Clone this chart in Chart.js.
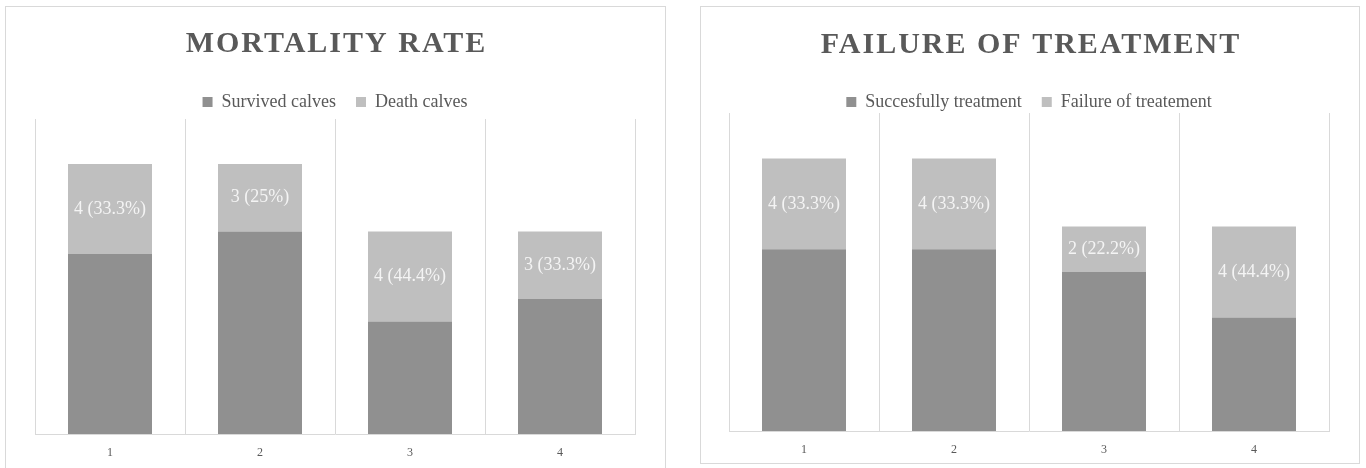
<!DOCTYPE html>
<html>
<head>
<meta charset="utf-8">
<script src="https://cdn.jsdelivr.net/npm/chart.js@4"></script>
<style>
  body { margin: 0; background: #fff; width: 1366px; height: 468px; overflow: hidden; position: relative; }
  .panel { position: absolute; border: 1px solid #d9d9d9; background: #fff; }
  #mortalityPanel { left: 5px; top: 6px; width: 659px; height: 470px; }
  #treatmentPanel { left: 700px; top: 6px; width: 658px; height: 456px; }
  canvas { display: block; position: relative; }
</style>
</head>
<body>
<div class="panel" id="mortalityPanel"><canvas id="mortality" width="659" height="470"></canvas></div>
<div class="panel" id="treatmentPanel"><canvas id="treatment" width="658" height="463"></canvas></div>
<script>
 const categories = ['1', '2', '3', '4'];

 const survivedCalves = [8, 9, 5, 6];
 const deathCalves = [4, 3, 4, 3];

 const succesfullyTreated = [8, 8, 7, 5];
 const failedTreatment = [4, 4, 2, 4];

 const darkGrey = '#909090';
 const lightGrey = '#bfbfbf';
 const gridGrey = '#d9d9d9';
 const textGrey = '#595959';

 Chart.defaults.font.family = '"Liberation Serif", "DejaVu Serif", serif';
 Chart.defaults.color = textGrey;

 // spaced-out caps title above the legend
 const spacedTitle = {
     id: 'spacedTitle',
     afterDraw(chart, args, opts) {
         const ctx = chart.ctx;
         ctx.save();
         ctx.font = 'bold 30px "Liberation Serif", serif';
         ctx.fillStyle = textGrey;
         ctx.letterSpacing = '2px';
         ctx.textAlign = 'left';
         ctx.textBaseline = 'middle';
         const w = ctx.measureText(opts.text).width - 2;
         ctx.fillText(opts.text, (chart.width - w) / 2, opts.y);
         ctx.restore();
     }
 };

 // "n (p%)" written inside the upper segment of each stack
 const segmentLabels = {
     id: 'segmentLabels',
     afterDatasetsDraw(chart) {
         const ctx = chart.ctx;
         const lower = chart.data.datasets[0].data;
         const upper = chart.data.datasets[1].data;
         const meta = chart.getDatasetMeta(1);
         ctx.save();
         ctx.font = '18px "Liberation Serif", serif';
         ctx.fillStyle = '#f4f4f4';
         ctx.textAlign = 'center';
         ctx.textBaseline = 'middle';
         meta.data.forEach((bar, i) => {
             const pct = Math.round(upper[i] / (lower[i] + upper[i]) * 1000) / 10;
             ctx.fillText(upper[i] + ' (' + pct + '%)', bar.x, (bar.y + bar.base) / 2);
         });
         ctx.restore();
     }
 };

 // legend box sits a little tighter on the plot; drawing is not clipped to the smaller box
 function tightLegend(by) {
     return {
         id: 'tightLegend',
         beforeInit(chart) {
             const legend = chart.legend;
             const fit = legend.fit;
             const draw = legend.draw;
             legend.fit = function () {
                 fit.call(this);
                 this.height -= by;
             };
             legend.draw = function () {
                 this.bottom += by;
                 this.height += by;
                 draw.call(this);
                 this.bottom -= by;
                 this.height -= by;
             };
         }
     };
 }

 function createStackChart(canvasId, title, titleY, labels, lower, upper, pad, legendCut) {
     return new Chart(document.getElementById(canvasId), {
         type: 'bar',
         data: {
             labels: categories,
             datasets: [
                 { label: labels[0], data: lower, backgroundColor: darkGrey, categoryPercentage: 1, barPercentage: 0.56 },
                 { label: labels[1], data: upper, backgroundColor: lightGrey, categoryPercentage: 1, barPercentage: 0.56 }
             ]
         },
         options: {
             responsive: false,
             animation: false,
             layout: { padding: pad },
             scales: {
                 x: {
                     stacked: true,
                     grid: { color: gridGrey, drawTicks: false },
                     border: { color: gridGrey },
                     ticks: { padding: 12, font: { size: 12 }, color: textGrey }
                 },
                 y: { stacked: true, display: false, min: 0, max: 14 }
             },
             plugins: {
                 legend: {
                     position: 'top',
                     labels: {
                         boxWidth: 10,
                         boxHeight: 10,
                         padding: 20,
                         font: { size: 18 },
                         color: textGrey
                     }
                 },
                 tooltip: { enabled: false },
                 spacedTitle: { text: title, y: titleY }
             }
         },
         plugins: [spacedTitle, segmentLabels, tightLegend(legendCut)]
     });
 }

 createStackChart('mortality', 'MORTALITY RATE', 37,
     ['Survived calves', 'Death calves'], survivedCalves, deathCalves,
     { top: 66, left: 29, right: 30, bottom: 4.6 }, 2);

 createStackChart('treatment', 'FAILURE OF TREATMENT', 38,
     ['Succesfully treatment', 'Failure of treatement'], succesfullyTreated, failedTreatment,
     { top: 66, left: 28, right: 30, bottom: 0.6 }, 8);
</script>
</body>
</html>
